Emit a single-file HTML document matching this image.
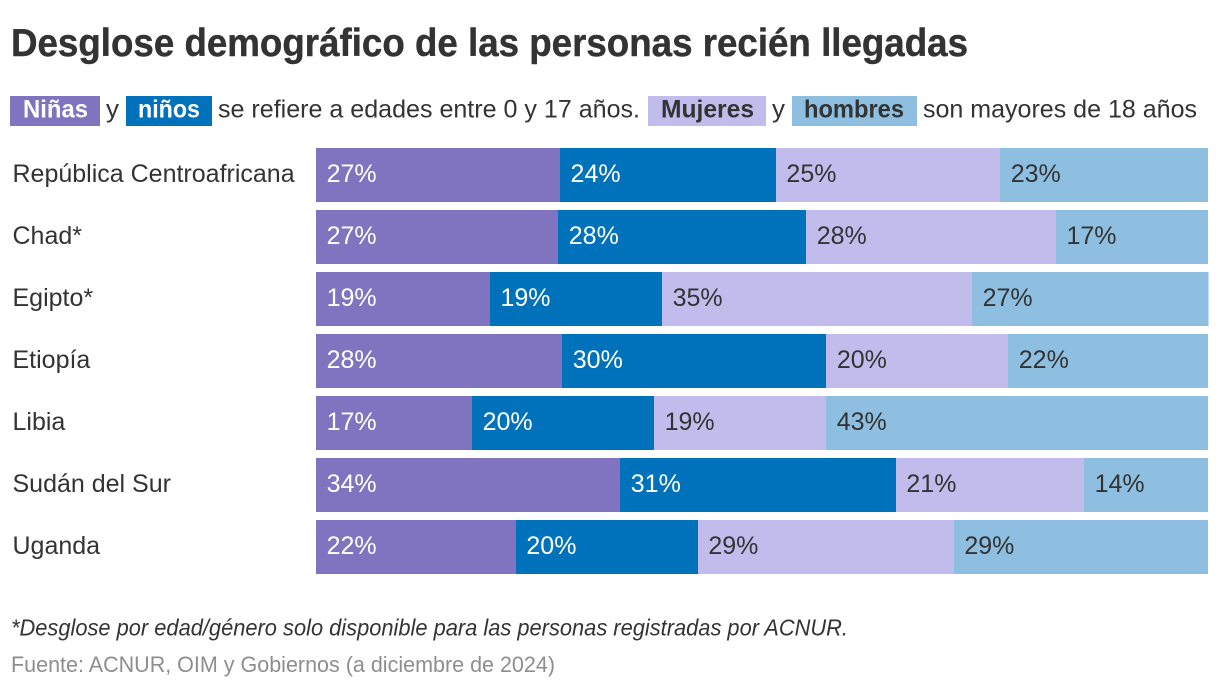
<!DOCTYPE html>
<html lang="es">
<head>
<meta charset="utf-8">
<title>Desglose demográfico de las personas recién llegadas</title>
<style>
html,body{margin:0;padding:0;background:#fff;width:1220px;height:688px;overflow:hidden}
svg{display:block}
text{font-family:"Liberation Sans",sans-serif;fill:#333}
</style>
</head>
<body>
<svg id="chart" width="1220" height="688" viewBox="0 0 1220 688" xmlns="http://www.w3.org/2000/svg">
  <text x="11" y="56" font-size="38.5" font-weight="700" stroke="#333" stroke-width="0.4" textLength="957" lengthAdjust="spacingAndGlyphs">Desglose demográfico de las personas recién llegadas</text>

  <g font-size="25">
    <rect x="10" y="96" width="90" height="30" fill="#8073bf"/>
    <text x="23" y="117.5" font-weight="700" style="fill:#fff" textLength="65" lengthAdjust="spacingAndGlyphs">Niñas</text>
    <text x="106" y="117.5" textLength="13" lengthAdjust="spacingAndGlyphs">y</text>
    <rect x="126" y="96" width="86" height="30" fill="#0072bc"/>
    <text x="138" y="117.5" font-weight="700" style="fill:#fff" textLength="62" lengthAdjust="spacingAndGlyphs">niños</text>
    <text x="218" y="117.5" textLength="422" lengthAdjust="spacingAndGlyphs">se refiere a edades entre 0 y 17 años.</text>
    <rect x="648" y="96" width="118" height="30" fill="#c2bcec"/>
    <text x="661" y="117.5" font-weight="700" textLength="93" lengthAdjust="spacingAndGlyphs">Mujeres</text>
    <text x="772" y="117.5" textLength="13" lengthAdjust="spacingAndGlyphs">y</text>
    <rect x="792" y="96" width="125" height="30" fill="#8ebfe0"/>
    <text x="804" y="117.5" font-weight="700" textLength="100" lengthAdjust="spacingAndGlyphs">hombres</text>
    <text x="923" y="117.5" textLength="274" lengthAdjust="spacingAndGlyphs">son mayores de 18 años</text>
  </g>

  <g id="rows"></g>

  <text x="11" y="635.5" font-size="23" font-style="italic" textLength="837" lengthAdjust="spacingAndGlyphs">*Desglose por edad/género solo disponible para las personas registradas por ACNUR.</text>
  <text x="11" y="672" font-size="22" style="fill:#8e8e8e" textLength="544" lengthAdjust="spacingAndGlyphs">Fuente: ACNUR, OIM y Gobiernos (a diciembre de 2024)</text>
</svg>

<script>
const categories = ["República Centroafricana", "Chad*", "Egipto*", "Etiopía", "Libia", "Sudán del Sur", "Uganda"];
const ninas   = [27.35, 27.15, 19.49, 27.6, 17.49, 34.1, 22.4];
const ninos   = [24.2, 27.8, 19.3, 29.6, 20.4, 30.9, 20.4];
const mujeres = [25.15, 28.0, 34.75, 20.4, 19.3, 21.1, 28.7];
const hombres = [23.3, 17.05, 26.5, 22.4, 42.81, 13.9, 28.5];
const seriesNames = ["ninas", "ninos", "mujeres", "hombres"];

const SVG_NS = "http://www.w3.org/2000/svg";
const seriesValues = [ninas, ninos, mujeres, hombres];
const seriesFill = ["#8073bf", "#0072bc", "#c2bcec", "#8ebfe0"];
const labelFill = ["#ffffff", "#ffffff", "#333333", "#333333"];
const plotLeft = 316, plotWidth = 892, rowTop = 148, rowStep = 62, barHeight = 54;

function xScale(v) { return plotLeft + v / 100 * plotWidth; }
function yBand(i) { return rowTop + i * rowStep; }

const rowsGroup = document.getElementById("rows");

categories.forEach(function (cat, i) {
  const y = yBand(i);

  const row = document.createElementNS(SVG_NS, "g");
  
  
  rowsGroup.appendChild(row);

  const catLabel = document.createElementNS(SVG_NS, "text");
  
  
  catLabel.setAttribute("x", 12.5);
  catLabel.setAttribute("y", y + 34);
  catLabel.setAttribute("font-size", 25);
  catLabel.textContent = cat;
  row.appendChild(catLabel);

  let cum = 0;
  seriesValues.forEach(function (arr, s) {
    const v = arr[i];
    const x0 = xScale(cum);
    const x1 = xScale(cum + v);
    cum += v;

    const bar = document.createElementNS(SVG_NS, "rect");
    
    
    bar.setAttribute("x", x0);
    bar.setAttribute("y", y);
    bar.setAttribute("width", x1 - x0);
    bar.setAttribute("height", barHeight);
    bar.setAttribute("fill", seriesFill[s]);
    bar.setAttribute("shape-rendering", "crispEdges");
    row.appendChild(bar);

    const val = document.createElementNS(SVG_NS, "text");
    
    
    val.setAttribute("x", x0 + 10.6);
    val.setAttribute("y", y + 34);
    val.setAttribute("font-size", 25);
    val.style.fill = labelFill[s];
    val.textContent = Math.round(v) + "%";
    row.appendChild(val);
  });
});
</script>
</body>
</html>
